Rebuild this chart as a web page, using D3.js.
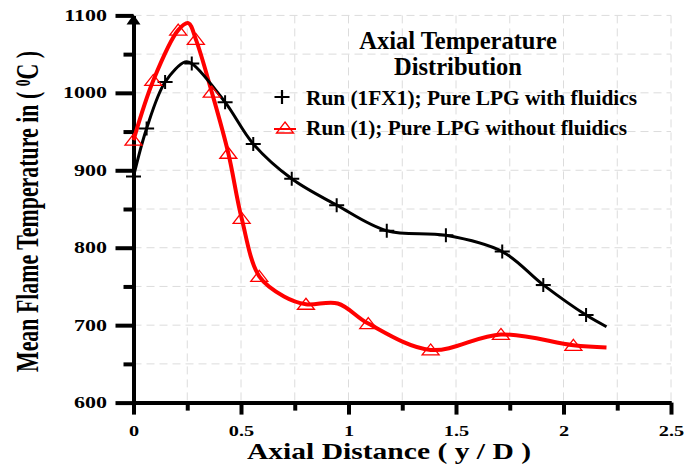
<!DOCTYPE html>
<html>
<head>
<meta charset="utf-8">
<script src="https://cdn.jsdelivr.net/npm/d3@7"></script>
<style>
  body { margin: 0; background: #fff; }
  text { font-family: "Liberation Serif", "Times New Roman", serif; font-weight: bold; }
</style>
</head>
<body>
<svg id="chart" width="685" height="468"></svg>
<script>
// tick values
const xMajor = [0, 0.5, 1, 1.5, 2, 2.5]
const yMajor = [600, 700, 800, 900, 1000, 1100]

// Run (1FX1) - with fluidics (plus markers)
const blackMarkX = [0, 0.061, 0.147, 0.271, 0.426, 0.557, 0.736, 0.945, 1.178, 1.453, 1.715, 1.906, 2.105]
const blackMarkY = [892, 954, 1014, 1038, 988, 934, 889, 855, 822, 816, 795, 752, 713]
// extra points
const blackLineX = [0.24, 2.2]
const blackLineY = [1040, 698]

// Run (1) - without fluidics (triangle markers)
const redMarkX = [0, 0.092, 0.208, 0.29, 0.364, 0.441, 0.503, 0.585, 0.802, 1.092, 1.382, 1.709, 2.046]
const redMarkY = [939, 1016, 1081, 1069, 1001, 922, 838, 763, 727, 702, 668, 688, 674]
const redLineX = [0.255, 0.7, 0.95, 2.2]
const redLineY = [1090, 737, 728, 671]

const legendLabels = ["Run (1FX1); Pure LPG with fluidics", "Run (1); Pure LPG without fluidics"]

// margin convention
const margin = { top: 15.4, right: 14, bottom: 65.4, left: 133.5 }
const width = 685 - margin.left - margin.right
const height = 468 - margin.top - margin.bottom

const svg = d3.select("#chart")
const g = svg.append("g").attr("transform", "translate(" + margin.left + "," + margin.top + ")")

const x = d3.scaleLinear().domain([0, 2.5]).range([0, width])
const y = d3.scaleLinear().domain([600, 1100]).range([height, 0])

const xMinor = d3.range(0.25, 2.5, 0.5)
const yMinor = d3.range(650, 1100, 100)
const xGrid = d3.range(0.25, 2.51, 0.25)
const yGrid = d3.range(650, 1101, 50)

// dashed grid
g.append("g").selectAll("line").data(xGrid).enter().append("line")
  .attr("x1", d => x(d)).attr("x2", d => x(d))
  .attr("y1", 0).attr("y2", height)
  .attr("stroke", "#dcdcdc").attr("stroke-dasharray", "8,5")
g.append("g").selectAll("line").data(yGrid).enter().append("line")
  .attr("x1", 0).attr("x2", width)
  .attr("y1", d => y(d)).attr("y2", d => y(d))
  .attr("stroke", "#dcdcdc").attr("stroke-dasharray", "8,5")

// axes
const xAxis = g.append("g").attr("transform", "translate(0," + height + ")")
  .call(d3.axisBottom(x).tickValues(xMajor).tickSize(12).tickSizeOuter(0).tickFormat(d3.format("~g")))
xAxis.append("g").call(d3.axisBottom(x).tickValues(xMinor).tickSize(8).tickSizeOuter(0).tickFormat(""))

const yAxis = g.append("g")
  .call(d3.axisLeft(y).tickValues(yMajor).tickSize(18).tickSizeOuter(0).tickFormat(d3.format("d")))
yAxis.append("g").call(d3.axisLeft(y).tickValues(yMinor).tickSize(10).tickSizeOuter(0).tickFormat(""))

g.selectAll(".domain").attr("stroke", "#000").attr("stroke-width", 4)
g.selectAll(".tick line").attr("stroke", "#000").attr("stroke-width", 4)

xAxis.selectAll(".tick text")
  .attr("y", 33).attr("dy", 0)
  .attr("font-size", 14).attr("fill", "#000")
  .attr("font-family", "Liberation Serif").attr("font-weight", "bold")
  .attr("transform", "scale(1.45,1)")

yAxis.selectAll(".tick text")
  .attr("x", -26.5 / 1.375)
  .attr("font-size", 16).attr("fill", "#000")
  .attr("font-family", "Liberation Serif").attr("font-weight", "bold")
  .attr("transform", "scale(1.375,1)")

// arrow head on top of y axis
g.append("path")
  .attr("d", "M" + x(0) + "," + (y(1100) - 1) + "l7,10h-14z")
  .attr("fill", "#000")

// lines
const line = d3.line().x(d => x(d[0])).y(d => y(d[1])).curve(d3.curveCatmullRom.alpha(0.5))

const blackPts = blackMarkX.map((v, i) => [v, blackMarkY[i]])
  .concat(blackLineX.map((v, i) => [v, blackLineY[i]]))
  .sort((a, b) => a[0] - b[0])
const redPts = redMarkX.map((v, i) => [v, redMarkY[i]])
  .concat(redLineX.map((v, i) => [v, redLineY[i]]))
  .sort((a, b) => a[0] - b[0])

g.append("path").datum(redPts)
  .attr("fill", "none").attr("stroke", "#ff0000").attr("stroke-width", 4)
  .attr("d", line)
g.append("path").datum(blackPts)
  .attr("fill", "none").attr("stroke", "#000").attr("stroke-width", 3)
  .attr("d", line)

const plusPath = "M-7.5,0H7.5M0,-7V7"
const triPath = "M0,-6L8.5,5H-8.5Z"

g.append("g").selectAll("path").data(blackMarkX).enter().append("path")
  .attr("transform", (d, i) => "translate(" + x(d) + "," + y(blackMarkY[i]) + ")")
  .attr("d", plusPath).attr("stroke", "#000").attr("stroke-width", 2).attr("fill", "none")

g.append("g").selectAll("path").data(redMarkX).enter().append("path")
  .attr("transform", (d, i) => "translate(" + x(d) + "," + y(redMarkY[i]) + ")")
  .attr("d", triPath).attr("stroke", "#ff0000").attr("stroke-width", 1.3).attr("fill", "none")

// title
const title = svg.append("text").attr("text-anchor", "middle").attr("font-size", 24.5).attr("fill", "#000")
title.append("tspan").attr("x", 458).attr("y", 48.5).text("Axial Temperature")
title.append("tspan").attr("x", 458).attr("y", 75).text("Distribution")

// legend
const legend = svg.append("g")
legend.append("path").attr("transform", "translate(282,97)").attr("d", plusPath)
  .attr("stroke", "#000").attr("stroke-width", 2.2)
legend.append("path").attr("transform", "translate(285,128)").attr("d", triPath)
  .attr("stroke", "#ff0000").attr("stroke-width", 1.3).attr("fill", "none")
legend.append("line").attr("x1", 274).attr("x2", 296).attr("y1", 129).attr("y2", 129)
  .attr("stroke", "#ff0000").attr("stroke-width", 2)
legend.append("text").attr("x", 306).attr("y", 105).attr("font-size", 21)
  .attr("textLength", 331).attr("lengthAdjust", "spacingAndGlyphs").text(legendLabels[0])
legend.append("text").attr("x", 306).attr("y", 135).attr("font-size", 21)
  .attr("textLength", 321).attr("lengthAdjust", "spacingAndGlyphs").text(legendLabels[1])

// axis titles
svg.append("text").attr("x", 389).attr("y", 459).attr("text-anchor", "middle")
  .attr("font-size", 24).attr("textLength", 284).attr("lengthAdjust", "spacingAndGlyphs")
  .text("Axial Distance ( y / D )")

const yLabel = svg.append("text")
  .attr("transform", "translate(38,211.5) rotate(-90)")
  .attr("text-anchor", "middle").attr("font-size", 32)
  .attr("textLength", 321).attr("lengthAdjust", "spacingAndGlyphs")
yLabel.append("tspan").text("Mean Flame Temperature in ( ")
yLabel.append("tspan").attr("font-size", 20).attr("baseline-shift", "40%").text("0")
yLabel.append("tspan").text("C )")
</script>
</body>
</html>
